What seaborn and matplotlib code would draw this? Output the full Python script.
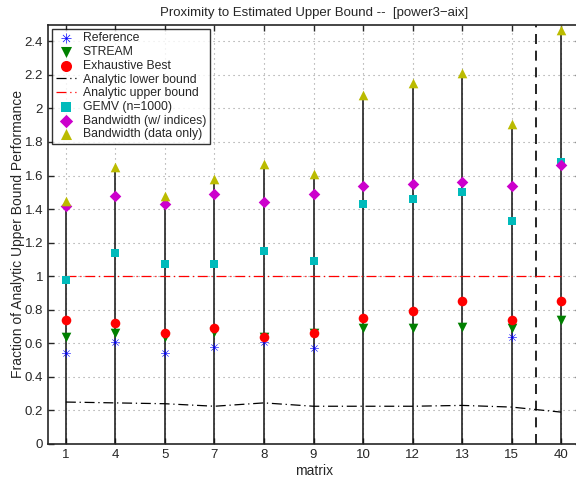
import numpy as np
import pandas as pd
import matplotlib
matplotlib.use("Agg")
import matplotlib.pyplot as plt
import seaborn as sns

matrices = ["1", "4", "5", "7", "8", "9", "10", "12", "13", "15", "40"]
reference = [0.54, 0.61, 0.54, 0.58, 0.61, 0.57, np.nan, np.nan, np.nan, 0.64, np.nan]
stream = [0.64, 0.66, 0.64, 0.67, 0.64, 0.66, 0.69, 0.69, 0.70, 0.69, 0.74]
exhaustive = [0.74, 0.72, 0.66, 0.69, 0.64, 0.66, 0.75, 0.79, 0.85, 0.74, 0.85]
lower_bound = [0.25, 0.245, 0.24, 0.225, 0.245, 0.225, 0.225, 0.225, 0.23, 0.22, 0.19]
upper_bound = [1.0] * 11
gemv = [0.98, 1.14, 1.07, 1.07, 1.15, 1.09, 1.43, 1.46, 1.50, 1.33, 1.68]
bw_indices = [1.42, 1.48, 1.43, 1.49, 1.44, 1.49, 1.54, 1.55, 1.56, 1.54, 1.66]
bw_data = [1.45, 1.65, 1.48, 1.58, 1.67, 1.61, 2.08, 2.15, 2.21, 1.91, 2.47]

sns.set_style("ticks")
plt.rcParams["font.family"] = ["Liberation Sans", "DejaVu Sans"]
plt.rcParams["font.size"] = 9.5

pos = np.arange(len(matrices))
df = pd.DataFrame({"pos": pos, "ref": reference, "stream": stream, "exh": exhaustive,
                   "lb": lower_bound, "ub": upper_bound, "gemv": gemv,
                   "bwi": bw_indices, "bwd": bw_data})

fig = plt.figure(figsize=(5.76, 4.82), dpi=100)
W, H = 576, 482
ax = fig.add_axes([48 / W, (H - 444) / H, (581 - 48) / W, (444 - 24.5) / H])

# grid
for yv in np.arange(0.2, 2.5, 0.2):
    ax.axhline(yv, color="#999999", lw=0.8, ls=(0, (1, 3.5)), zorder=0)
for xv in pos:
    ax.axvline(xv, color="#999999", lw=0.8, ls=(0, (1, 3.5)), zorder=0)

# stems
ax.vlines(pos, 0, bw_data, color="#111111", lw=1.1, zorder=1)
ax.axvline(9.5, color="black", lw=1.2, ls=(0, (6, 4)), zorder=1)

ms = 48
sns.scatterplot(data=df, x="pos", y="ref", marker="$\u2733$", color="blue", s=40,
                linewidth=0, label="Reference", ax=ax, zorder=3)
sns.scatterplot(data=df, x="pos", y="stream", marker="v", color="green", s=ms,
                linewidth=0, label="STREAM", ax=ax, zorder=3)
sns.scatterplot(data=df, x="pos", y="exh", marker="o", color="red", s=ms,
                linewidth=0, label="Exhaustive Best", ax=ax, zorder=3)
sns.lineplot(data=df, x="pos", y="lb", color="black", lw=0.9, ls=(0, (8, 3, 1, 3)),
             label="Analytic lower bound", ax=ax, zorder=2)
sns.lineplot(data=df, x="pos", y="ub", color="red", lw=0.9, ls=(0, (8, 3, 1, 3)),
             label="Analytic upper bound", ax=ax, zorder=2)
sns.scatterplot(data=df, x="pos", y="gemv", marker="s", color="#00bbbb", s=35,
                linewidth=0, label="GEMV (n=1000)", ax=ax, zorder=3)
sns.scatterplot(data=df, x="pos", y="bwi", marker="D", color="#cc00cc", s=35,
                linewidth=0, label="Bandwidth (w/ indices)", ax=ax, zorder=3)
sns.scatterplot(data=df, x="pos", y="bwd", marker="^", color="#bbbb00", s=ms,
                linewidth=0, label="Bandwidth (data only)", ax=ax, zorder=3)

ax.set_xlim(-0.36, 10.40)
ax.set_ylim(0, 2.5)
ax.set_xticks(pos)
ax.set_xticklabels(matrices)
ax.set_yticks(np.arange(0, 2.5, 0.2))
ax.set_yticklabels(["0", "0.2", "0.4", "0.6", "0.8", "1", "1.2", "1.4", "1.6",
                    "1.8", "2", "2.2", "2.4"])
ax.tick_params(direction="in", length=4, width=1, top=True, right=True, labelsize=9.5)
for sp in ax.spines.values():
    sp.set_visible(True)
    sp.set_linewidth(1.2)
ax.set_xlabel("matrix", fontsize=10, labelpad=2)
ax.set_ylabel("Fraction of Analytic Upper Bound Performance", fontsize=10, labelpad=-0.5)
ax.set_title("Proximity to Estimated Upper Bound --  [power3\u2212aix]", fontsize=9.5, pad=6)

leg = ax.legend(loc="upper left", bbox_to_anchor=(0.0, 1.0), frameon=True, fancybox=False,
                edgecolor="black", fontsize=8.8, handlelength=1.6, handletextpad=0.6,
                labelspacing=0.14, borderpad=0.3, borderaxespad=0.35, markerscale=1.15)
leg.get_frame().set_linewidth(1.0)

fig.savefig("out.png", dpi=100)
